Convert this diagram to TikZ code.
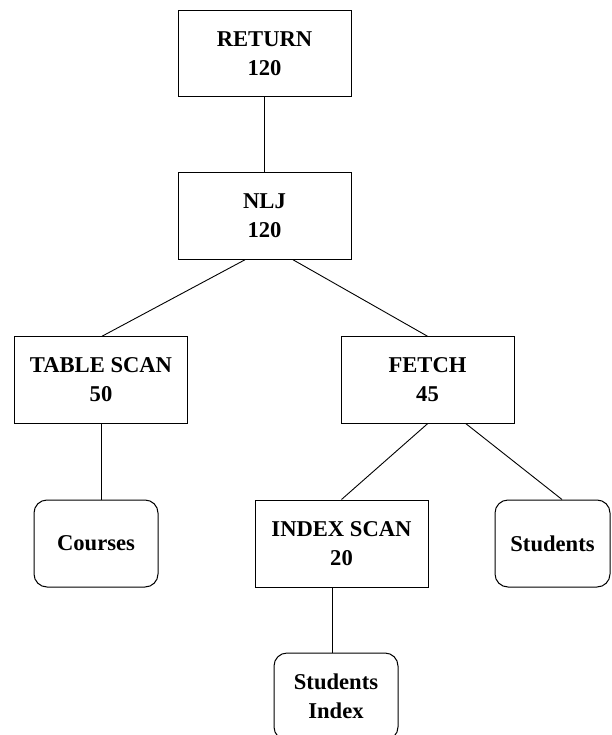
\documentclass[tikz,border=0pt]{standalone}
\usepackage{fontspec}
\setmainfont{Liberation Serif}
\usetikzlibrary{calc}
\begin{document}
\begin{tikzpicture}[x=1pt,y=-1pt,
  every node/.style={font=\fontsize{22.6}{29}\selectfont\bfseries, align=center, inner sep=0pt},
  opbox/.style={draw, line width=1pt, minimum width=173pt, minimum height=86.5pt},
  relbox/.style={draw, line width=1pt, rounded corners=13pt, minimum height=87pt},
  link/.style={line width=0.9pt}]
\useasboundingbox (0,0) rectangle (611,735);
\node[opbox] (ret) at (264.5,53.5) {RETURN\\120};
\node[opbox] (nlj) at (264.5,216) {NLJ\\120};
\node[opbox] (ts) at (101,380) {TABLE SCAN\\50};
\node[opbox] (fe) at (427.5,380) {FETCH\\45};
\node[relbox, minimum width=124pt] (co) at (96,543.5) {Courses};
\node[opbox, minimum height=87pt] (is) at (341.5,543.5) {INDEX SCAN\\20};
\node[relbox, minimum width=115pt] (st) at (552.5,543.5) {Students};
\node[relbox, minimum width=124pt] (si) at (336,696.5) {Students\\Index};
\draw[link] (ret.south) -- (nlj.north);
\draw[link] ([xshift=-19.5pt]nlj.south) -- ([xshift=1pt]ts.north);
\draw[link] ([xshift=28.5pt]nlj.south) -- (fe.north);
\draw[link] (ts.south) -- (ts.south |- co.north);
\draw[link] (fe.south) -- (is.north);
\draw[link] ([xshift=38.5pt]fe.south) -- ([xshift=9.5pt]st.north);
\draw[link] ([xshift=-9.5pt]is.south) coordinate (isb) -- (isb |- si.north);
\end{tikzpicture}
\end{document}
